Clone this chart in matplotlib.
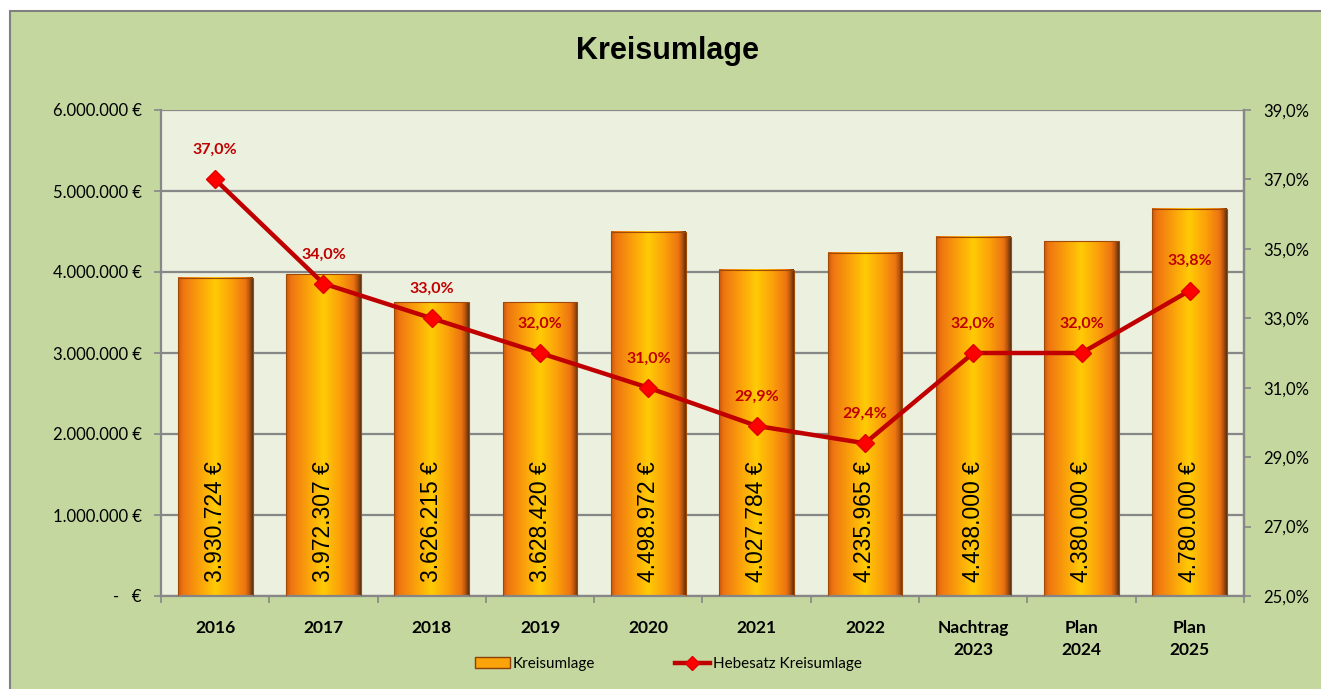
import numpy as np
import matplotlib
matplotlib.use("Agg")
import matplotlib.pyplot as plt
from matplotlib.colors import LinearSegmentedColormap
from matplotlib.patches import Rectangle
from matplotlib.lines import Line2D
from matplotlib.ticker import FixedLocator

# ─── Daten ────────────────────────────────────────────────────────────────
categories = ["2016", "2017", "2018", "2019", "2020", "2021", "2022",
              "Nachtrag\n2023", "Plan\n2024", "Plan\n2025"]
kreisumlage = [3930724, 3972307, 3626215, 3628420, 4498972,
               4027784, 4235965, 4438000, 4380000, 4780000]
hebesatz = [37.0, 34.0, 33.0, 32.0, 31.0, 29.9, 29.4, 32.0, 32.0, 33.8]
left_ticks = [0, 1_000_000, 2_000_000, 3_000_000, 4_000_000, 5_000_000, 6_000_000]
right_ticks = [25, 27, 29, 31, 33, 35, 37, 39]

BG_OUT = "#C4D79F"
BG_IN = "#EBF0DF"
GRID = "#878787"
RED = "#C00000"
UI_FONT = ["Lato", "DejaVu Sans"]


def eur(v):
    if v == 0:
        return "-   €"
    return f"{v:,}".replace(",", ".") + " €"


def eur_bar(v):
    return f"{v:,}".replace(",", ".") + " €"


def pct(v):
    return f"{v:.1f}".replace(".", ",") + "%"


bar_cmap = LinearSegmentedColormap.from_list("bar", [
    (0.00, "#C8580A"), (0.06, "#EE7412"), (0.30, "#FBA30A"),
    (0.50, "#FFCB05"), (0.72, "#FBA00A"), (0.90, "#EE7412"),
    (0.95, "#B9560C"), (1.00, "#5C3010")])

fig = plt.figure(figsize=(13.21, 6.89), dpi=100, facecolor="white")
bg = Rectangle((10 / 1321, -0.01), 1.0, 1 - 11 / 689 + 0.01,
               transform=fig.transFigure, facecolor=BG_OUT,
               edgecolor="#808080", linewidth=1.5, zorder=-10)
fig.patches.append(bg)

ax1 = fig.add_axes([161 / 1321, 1 - 596 / 689, (1244 - 161) / 1321, (596 - 110) / 689])
ax1.set_zorder(1)
ax1.set_facecolor(BG_IN)
x = np.arange(len(categories))
width = 0.69

# Balken mit Farbverlauf
grad = np.linspace(0, 1, 256).reshape(1, -1)
for xi, v in zip(x, kreisumlage):
    ax1.imshow(grad, cmap=bar_cmap, aspect="auto", zorder=2,
               extent=[xi - width / 2, xi + width / 2, 0, v], interpolation="bilinear")
ax1.bar(x, kreisumlage, width=width, facecolor="none", edgecolor="#A04A08",
        linewidth=0.8, zorder=3)
for xi, v in zip(x, kreisumlage):
    ax1.annotate(eur_bar(v), (xi, 0), xytext=(0, 10), textcoords="offset points",
                 rotation=90, ha="center", va="bottom", fontsize=16.5,
                 family=["Liberation Sans", "DejaVu Sans"], color="black", zorder=4)

ax1.set_xlim(-0.5, len(categories) - 0.5)
ax1.set_ylim(0, 6_000_000)
ax1.yaxis.set_major_locator(FixedLocator(left_ticks))
ax1.set_yticklabels([eur(v) for v in left_ticks], family=UI_FONT, fontsize=12)
ax1.grid(axis="y", color=GRID, linewidth=1.6, zorder=1)
ax1.set_axisbelow(True)
ax1.set_xticks(x)
ax1.set_xticklabels(categories, family=UI_FONT, fontsize=12.5, fontweight="bold",
                    linespacing=1.5)
ax1.xaxis.set_minor_locator(FixedLocator(np.arange(-0.5, len(categories), 1.0)))
ax1.tick_params(axis="x", which="major", length=0, pad=17)
ax1.tick_params(axis="x", which="minor", length=5, color=GRID, width=1.2)
ax1.tick_params(axis="y", length=5, color=GRID, width=1.2, pad=9)
ax1.spines["top"].set_visible(False)
for s in ["left", "bottom", "right"]:
    ax1.spines[s].set_color(GRID)
    ax1.spines[s].set_linewidth(1.6)

# Hebesatz-Linie
ax2 = ax1.twinx()
ax2.set_zorder(2)
ax2.patch.set_visible(False)
ax2.plot(x, hebesatz, color=RED, linewidth=3.2, marker="D", markersize=9,
         markerfacecolor="#FF0000", markeredgecolor="#E00000", zorder=5)
for xi, v in zip(x, hebesatz):
    ax2.annotate(pct(v), (xi, v), xytext=(0, 16), textcoords="offset points",
                 ha="center", va="bottom", fontsize=11.5, fontweight="bold",
                 color=RED, family=UI_FONT)
ax2.set_ylim(25, 39)
ax2.yaxis.set_major_locator(FixedLocator(right_ticks))
ax2.set_yticklabels([pct(v) for v in right_ticks], family=UI_FONT, fontsize=12)
ax2.tick_params(axis="y", length=5, color=GRID, width=1.2, pad=9)
for s in ["top", "left", "bottom"]:
    ax2.spines[s].set_visible(False)
ax2.spines["right"].set_color(GRID)
ax2.spines["right"].set_linewidth(1.6)

fig.text(0.505, 1 - 51 / 689, "Kreisumlage", ha="center", va="center",
         fontsize=22, fontweight="bold", family=["Liberation Sans", "DejaVu Sans"])

# Legende
bar_handle = Rectangle((0, 0), 1, 1, facecolor="#FBA30A", edgecolor="#8A4008")
line_handle = Line2D([], [], color=RED, linewidth=3.2, marker="D", markersize=7,
                     markerfacecolor="#FF0000", markeredgecolor="#E00000")
fig.legend([bar_handle, line_handle], ["Kreisumlage", "Hebesatz Kreisumlage"],
           loc="center", bbox_to_anchor=(0.506, 1 - 664 / 689), ncol=2,
           frameon=False, columnspacing=5.2, handlelength=2.3, handletextpad=0.2,
           prop={"family": UI_FONT, "size": 11})

fig.savefig("out.png", dpi=100, facecolor="white")
